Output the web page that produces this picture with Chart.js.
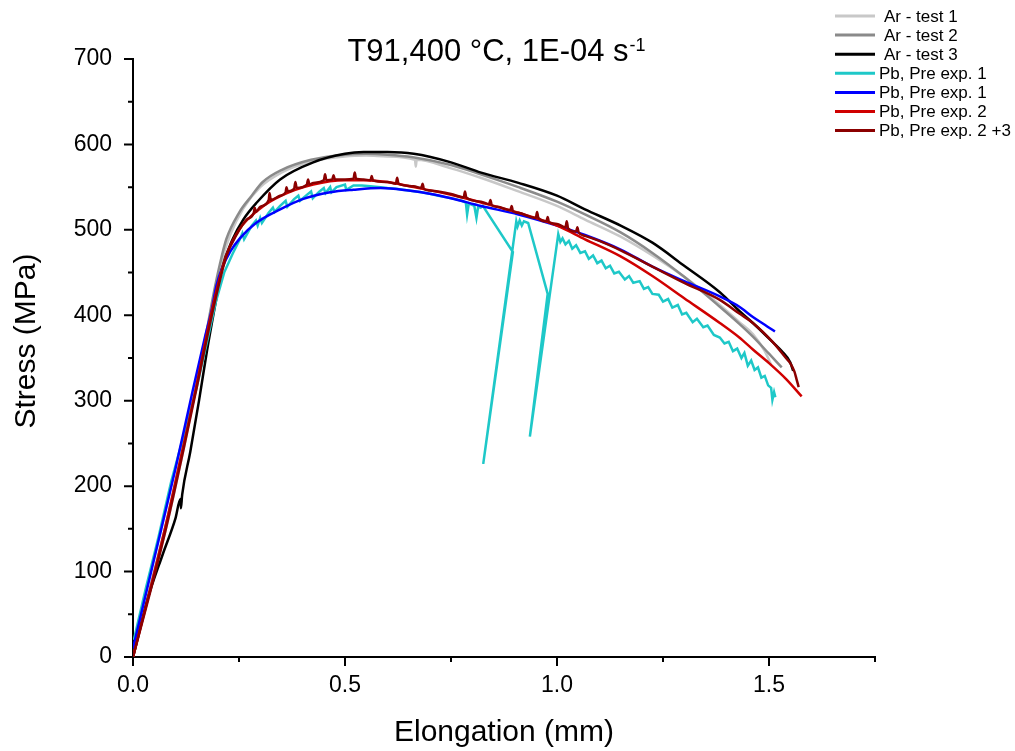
<!DOCTYPE html>
<html>
<head>
<meta charset="utf-8">
<script src="https://cdn.jsdelivr.net/npm/chart.js@4.4.1/dist/chart.umd.min.js"></script>
<style>
  html, body { margin: 0; padding: 0; background: #fff; }
  #wrap { width: 1015px; height: 751px; }
</style>
</head>
<body>
<div id="wrap"><canvas id="stressChart" width="1015" height="751"></canvas></div>
<script>
const FONT = "'Liberation Sans', Arial, sans-serif";

// series labels + colours (legend order)
const seriesLabels = ["Ar - test 1", "Ar - test 2", "Ar - test 3", "Pb, Pre exp. 1", "Pb, Pre exp. 1", "Pb, Pre exp. 2", "Pb, Pre exp. 2 +3"];
const seriesColors = ["#c8c8c8", "#8a8a8a", "#000000", "#1ec8c8", "#0000ff", "#d00000", "#8b0000"];

// axis ticks
const xTicks = [0, 0.5, 1.0, 1.5];
const xMinorTicks = [0.25, 0.75, 1.25, 1.75];
const yTicks = [0, 100, 200, 300, 400, 500, 600, 700];
const yMinorTicks = [50, 150, 250, 350, 450, 550, 650];

// elongation (mm), stress (MPa)
const arTest1 = [[0,0],[0.04,78],[0.08,155],[0.12,245],[0.15,318],[0.175,382],[0.19,420],[0.21,465],[0.23,495],[0.26,525],[0.30,550],[0.35,567],[0.42,580],[0.50,586],[0.55,587],[0.60,586],[0.665,582],[0.667,574],[0.669,582],[0.75,572],[0.82,561],[0.909,545],[1.0,528],[1.066,512],[1.15,492],[1.225,470],[1.30,445],[1.384,412],[1.43,392],[1.462,378],[1.49,358],[1.505,342]];
const arTest2 = [[0,0],[0.04,80],[0.08,160],[0.12,250],[0.15,320],[0.175,385],[0.19,425],[0.205,460],[0.22,489],[0.25,520],[0.28,540],[0.306,556],[0.35,570],[0.42,582],[0.50,588],[0.55,589],[0.60,588],[0.66,585],[0.75,576],[0.82,565],[0.909,550],[1.0,533],[1.066,518],[1.15,497],[1.225,473],[1.30,445],[1.384,410],[1.43,390],[1.462,375],[1.50,355],[1.53,339]];
const arTest3 = [[0,0],[0.034,67],[0.07,120],[0.10,162],[0.112,185],[0.113,174],[0.116,190],[0.135,240],[0.156,301],[0.175,360],[0.196,418],[0.21,455],[0.235,489],[0.26,512],[0.292,532],[0.347,559],[0.425,579],[0.50,589],[0.544,591],[0.60,591],[0.662,589],[0.75,579],[0.821,567],[0.909,555],[1.0,540],[1.066,524],[1.15,505],[1.225,485],[1.30,458],[1.384,427],[1.43,405],[1.462,391],[1.51,368],[1.53,358],[1.55,345],[1.557,335]];
const pbExp1a = [[0.002,20],[0.03,80],[0.06,140],[0.09,205],[0.12,260],[0.15,315],[0.175,370],[0.195,415],[0.215,450],[0.235,472],[0.252,489],[0.258,496],[0.262,489],[0.28,505],[0.29,511],[0.294,505],[0.30,514],[0.304,508],[0.32,520],[0.33,526],[0.334,521],[0.347,528],[0.36,534],[0.364,527],[0.38,536],[0.39,540],[0.394,534],[0.41,541],[0.42,545],[0.424,537],[0.44,545],[0.45,549],[0.454,543],[0.465,550],[0.468,544],[0.48,550],[0.50,553],[0.503,547],[0.52,552],[0.54,552],[0.56,551],[0.584,550],[0.60,549],[0.62,548],[0.65,546],[0.68,544],[0.703,542],[0.72,540],[0.74,538],[0.76,536],[0.775,534],[0.785,532],[0.788,518],[0.792,531],[0.805,528],[0.81,514],[0.814,527],[0.82,526],[0.825,528],[0.896,474],[0.826,226],[0.904,510],[0.907,504],[0.912,511],[0.917,505],[0.922,510],[0.932,508],[0.978,425],[0.936,258],[1.003,495],[1.008,486],[1.013,490],[1.02,483],[1.028,487],[1.036,478],[1.045,482],[1.055,473],[1.066,475],[1.075,466],[1.085,470],[1.095,461],[1.105,464],[1.115,455],[1.125,458],[1.135,449],[1.146,451],[1.16,442],[1.17,446],[1.18,438],[1.195,440],[1.205,431],[1.215,433],[1.225,425],[1.24,424],[1.25,416],[1.262,419],[1.272,409],[1.285,412],[1.295,401],[1.305,403],[1.32,392],[1.33,396],[1.345,386],[1.355,388],[1.37,377],[1.384,374],[1.395,367],[1.405,369],[1.415,358],[1.425,361],[1.435,350],[1.442,356],[1.45,341],[1.458,347],[1.466,336],[1.474,339],[1.482,327],[1.49,329],[1.498,318],[1.505,315],[1.508,301],[1.512,310],[1.515,304]];
const pbExp1b = [[0,10],[0.05,115],[0.10,220],[0.14,310],[0.17,375],[0.185,405],[0.197,435],[0.21,455],[0.23,475],[0.252,490],[0.29,508],[0.347,524],[0.40,536],[0.465,544],[0.52,547],[0.584,549],[0.65,546],[0.703,542],[0.75,537],[0.821,528],[0.909,518],[1.0,505],[1.066,494],[1.15,477],[1.225,457],[1.30,440],[1.384,422],[1.43,410],[1.462,398],[1.49,389],[1.514,381]];
const pbExp2 = [[0,0],[0.04,78],[0.08,160],[0.12,250],[0.15,318],[0.175,380],[0.195,425],[0.22,470],[0.25,500],[0.30,525],[0.35,540],[0.425,553],[0.50,558],[0.544,558],[0.60,556],[0.662,550],[0.75,541],[0.821,532],[0.909,520],[1.0,505],[1.066,489],[1.15,469],[1.225,446],[1.30,420],[1.384,391],[1.43,374],[1.462,360],[1.50,344],[1.541,325],[1.577,305]];
const pbExp23 = [[0,0],[0.04,75],[0.08,155],[0.12,245],[0.15,315],[0.175,375],[0.195,420],[0.22,469],[0.245,495],[0.268,512],[0.285,520],[0.287,526],[0.29,521],[0.30,527],[0.32,535],[0.322,543],[0.325,535],[0.347,540],[0.36,544],[0.362,550],[0.365,545],[0.38,548],[0.383,556],[0.386,549],[0.41,553],[0.413,559],[0.416,553],[0.425,555],[0.45,558],[0.453,565],[0.456,558],[0.47,559],[0.473,564],[0.476,559],[0.50,559],[0.52,560],[0.523,567],[0.526,560],[0.544,559],[0.56,558],[0.563,563],[0.566,558],[0.60,556],[0.62,554],[0.623,561],[0.626,554],[0.662,551],[0.68,549],[0.683,554],[0.686,548],[0.70,546],[0.75,542],[0.78,538],[0.783,545],[0.786,538],[0.821,533],[0.84,530],[0.843,535],[0.846,529],[0.86,527],[0.89,523],[0.893,528],[0.896,522],[0.909,520],[0.95,514],[0.953,521],[0.956,514],[0.975,510],[0.978,515],[0.981,509],[1.0,507],[1.02,503],[1.023,510],[1.026,502],[1.045,498],[1.048,503],[1.051,497],[1.066,493],[1.10,487],[1.15,476],[1.225,457],[1.30,438],[1.384,418],[1.43,402],[1.462,391],[1.51,368],[1.54,350],[1.55,344],[1.56,334],[1.565,325],[1.57,316]];

const seriesData = [arTest1, arTest2, arTest3, pbExp1a, pbExp1b, pbExp2, pbExp23];

const datasets = seriesData.map((pts, i) => ({
  label: seriesLabels[i],
  data: pts.map(p => ({ x: p[0], y: p[1] })),
  borderColor: seriesColors[i],
  backgroundColor: seriesColors[i],
  borderWidth: 2.5,
  showLine: true,
  pointRadius: 0,
  tension: 0,
  // the unload/reload loops go back in x, so only monotone ones get smoothed
  cubicInterpolationMode: i === 3 ? "default" : "monotone",
  order: seriesData.length - i   // later series drawn on top
}));

// minor/major tick marks sticking out of the axes
const tickMarks = {
  id: "tickMarks",
  afterDraw(chart) {
    const ctx = chart.ctx;
    const xs = chart.scales.x, ys = chart.scales.y;
    const area = chart.chartArea;
    ctx.save();
    ctx.strokeStyle = "#000";
    ctx.lineWidth = 2;
    ctx.beginPath();
    xTicks.forEach(v => { const p = xs.getPixelForValue(v); ctx.moveTo(p, area.bottom); ctx.lineTo(p, area.bottom + 9); });
    xMinorTicks.forEach(v => { const p = xs.getPixelForValue(v); ctx.moveTo(p, area.bottom); ctx.lineTo(p, area.bottom + 5); });
    yTicks.forEach(v => { const p = ys.getPixelForValue(v); ctx.moveTo(area.left, p); ctx.lineTo(area.left - 9, p); });
    yMinorTicks.forEach(v => { const p = ys.getPixelForValue(v); ctx.moveTo(area.left, p); ctx.lineTo(area.left - 5, p); });
    ctx.stroke();
    ctx.restore();
  }
};

// title with superscript + y axis title
const titleText = {
  id: "titleText",
  afterDraw(chart) {
    const ctx = chart.ctx;
    const main = "T91,400 \u00b0C, 1E-04 s";
    const sup = "-1";
    ctx.save();
    ctx.fillStyle = "#000";
    ctx.textBaseline = "alphabetic";
    ctx.font = "31px " + FONT;
    const w1 = ctx.measureText(main).width;
    ctx.font = "18px " + FONT;
    const w2 = ctx.measureText(sup).width;
    const x0 = 496 - (w1 + w2) / 2;
    ctx.font = "31px " + FONT;
    ctx.fillText(main, x0, 61);
    ctx.font = "18px " + FONT;
    ctx.fillText(sup, x0 + w1 + 1, 51);

    ctx.translate(27, 341);
    ctx.rotate(-Math.PI / 2);
    ctx.font = "30px " + FONT;
    ctx.textAlign = "center";
    ctx.textBaseline = "middle";
    ctx.fillText("Stress (MPa)", 0, 0);
    ctx.restore();
  }
};

// Origin-style legend in the top right corner
const lineLegend = {
  id: "lineLegend",
  afterDraw(chart) {
    const ctx = chart.ctx;
    ctx.save();
    ctx.font = "17px " + FONT;
    ctx.textBaseline = "middle";
    chart.data.datasets.forEach((ds, i) => {
      const y = 16 + i * 19.1;
      ctx.strokeStyle = ds.borderColor;
      ctx.lineWidth = 3;
      ctx.beginPath();
      ctx.moveTo(835, y);
      ctx.lineTo(875, y);
      ctx.stroke();
      ctx.fillStyle = "#000";
      ctx.fillText(ds.label, ds.label.startsWith("Ar") ? 884 : 879, y + 1);
    });
    ctx.restore();
  }
};

new Chart(document.getElementById("stressChart"), {
  type: "scatter",
  data: { datasets },
  options: {
    responsive: false,
    animation: false,
    devicePixelRatio: 1,
    layout: { padding: { top: 59, right: 140, left: 0, bottom: 0 } },
    plugins: {
      legend: { display: false },
      title: { display: false },
      tooltip: { enabled: false }
    },
    scales: {
      x: {
        type: "linear",
        min: 0,
        max: 1.75,
        afterBuildTicks: s => { s.ticks = xTicks.map(v => ({ value: v })); },
        afterFit: s => { s.height = 94; },
        grid: { display: false, drawTicks: false },
        border: { display: true, color: "#000", width: 2 },
        ticks: {
          color: "#000",
          font: { family: FONT, size: 23 },
          padding: 15,
          maxRotation: 0,
          callback: v => Number(v).toFixed(1)
        },
        title: {
          display: true,
          text: "Elongation (mm)",
          color: "#000",
          font: { family: FONT, size: 30 },
          padding: { top: 0, bottom: 0 }
        }
      },
      y: {
        type: "linear",
        min: 0,
        max: 700,
        afterBuildTicks: s => { s.ticks = yTicks.map(v => ({ value: v })); },
        afterFit: s => { s.width = 133; },
        grid: { display: false, drawTicks: false },
        border: { display: true, color: "#000", width: 2 },
        ticks: {
          color: "#000",
          font: { family: FONT, size: 23 },
          padding: 21
        },
        title: { display: false }
      }
    }
  },
  plugins: [tickMarks, titleText, lineLegend]
});
</script>
</body>
</html>
